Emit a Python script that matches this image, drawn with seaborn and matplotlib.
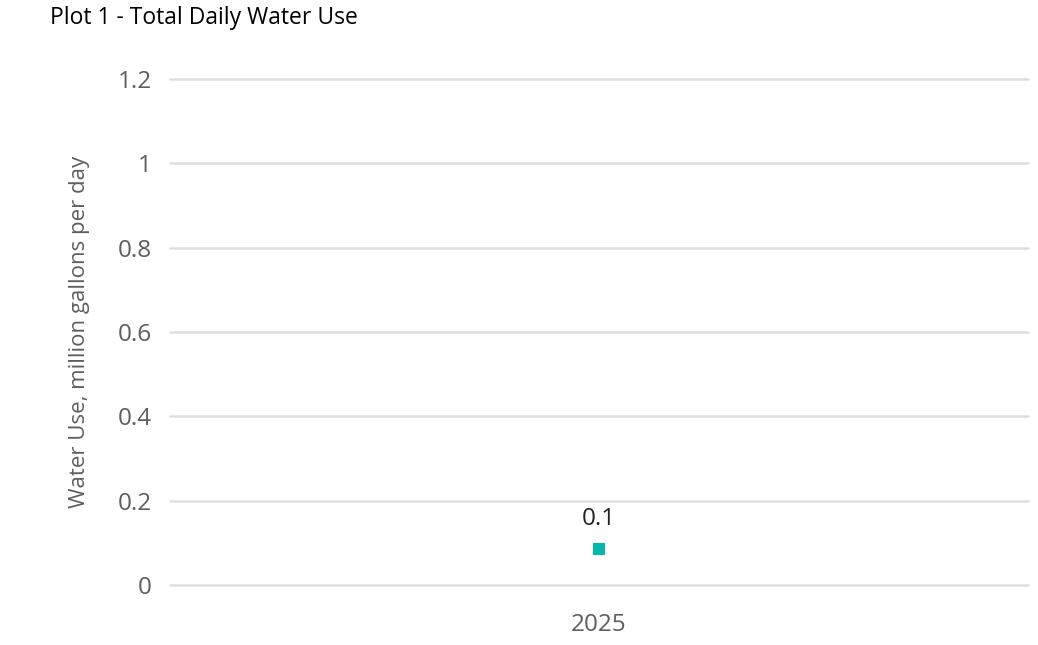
import matplotlib
matplotlib.use("Agg")
import matplotlib.pyplot as plt
import seaborn as sns
import pandas as pd

years = ["2025"]
water_use = [0.085]
labels = ["0.1"]

sns.set_style("white")
plt.rcParams['font.family'] = ['Open Sans', 'DejaVu Sans']

df = pd.DataFrame({"year": years, "use": water_use})

fig = plt.figure(figsize=(10.38, 6.45), dpi=100)
ax = fig.add_axes([0.1638, 0.093, 0.8266, 0.7845])

sns.scatterplot(data=df, x="year", y="use", marker="s", s=70, color="#01B8AA",
                edgecolor="none", ax=ax, zorder=3)

for x, y, t in zip(df["year"], df["use"], labels):
    ax.annotate(t, (x, y), xytext=(0, 13), textcoords="offset points",
                ha="center", va="bottom", fontsize=17.5, color="#252423")

ax.set_ylim(0, 1.2)
ax.set_yticks([0, 0.2, 0.4, 0.6, 0.8, 1.0, 1.2])
ax.set_yticklabels(["0", "0.2", "0.4", "0.6", "0.8", "1", "1.2"])
ax.set_xlim(-0.5, 0.5)
ax.grid(axis="y", color="#DEDEDE", linewidth=1.8)
for gl in ax.get_ygridlines():
    gl.set_clip_on(False)
ax.set_axisbelow(True)
for sp in ax.spines.values():
    sp.set_visible(False)
ax.tick_params(axis="y", length=0, pad=13, labelsize=17.5, labelcolor="#605E5C")
ax.tick_params(axis="x", length=0, pad=20, labelsize=17.5, labelcolor="#605E5C")
ax.set_xlabel("")
ax.set_ylabel("Water Use, million gallons per day", fontsize=16, color="#605E5C", labelpad=20)

fig.text(50/1038, 1 - 18/645, "Plot 1 - Total Daily Water Use", fontsize=16.5,
         color="#000000", ha="left", va="center")

fig.savefig("out.png", dpi=100)
